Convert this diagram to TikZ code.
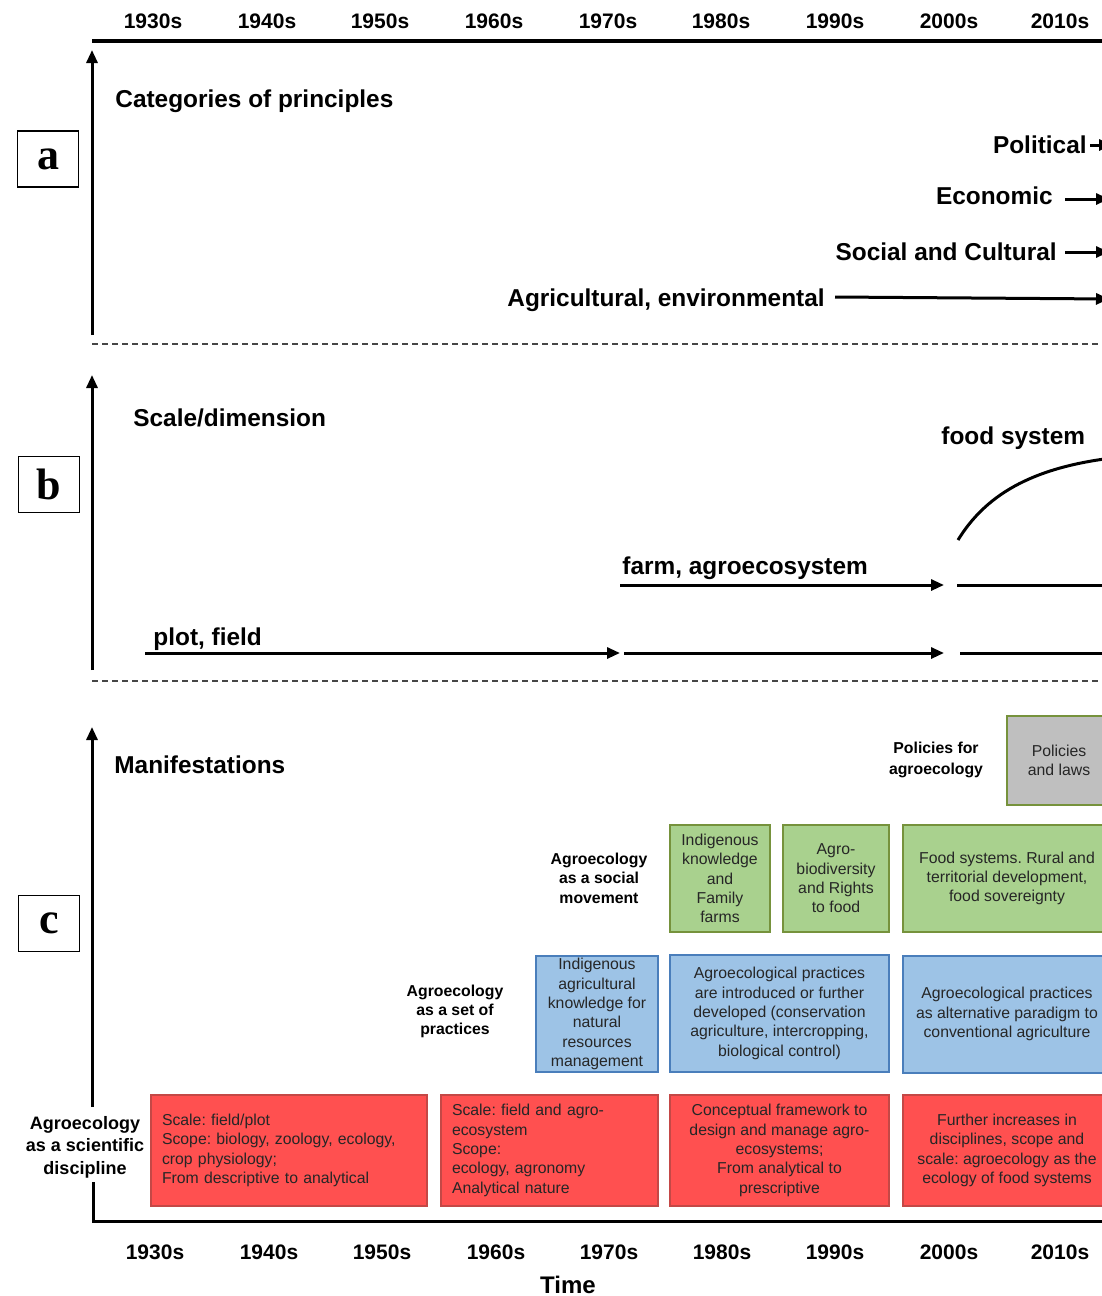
\documentclass[tikz,border=0pt]{standalone}
\usepackage{fontspec}
\setmainfont{Liberation Sans}
\newfontfamily\panelserif{Liberation Serif}
\usetikzlibrary{arrows.meta}
\frenchspacing

\definecolor{boxred}{RGB}{255,80,80}
\definecolor{boxredline}{RGB}{196,72,70}
\definecolor{boxgreen}{RGB}{169,209,142}
\definecolor{boxgreenline}{RGB}{118,146,60}
\definecolor{boxblue}{RGB}{157,195,230}
\definecolor{boxblueline}{RGB}{74,126,187}
\definecolor{boxgray}{RGB}{191,191,191}
\definecolor{boxtext}{RGB}{38,38,38}
\definecolor{dashgray}{RGB}{70,70,70}

\tikzset{
  decade/.style={font=\fontsize{10.5}{12}\selectfont\bfseries, anchor=base, inner sep=0pt},
  timelabel/.style={font=\fontsize{12}{14}\selectfont\bfseries, anchor=base, inner sep=0pt},
  heading/.style={font=\fontsize{12.2}{14}\selectfont\bfseries, inner sep=0pt},
  sidelabel/.style={font=\fontsize{7.9}{9.75}\selectfont\bfseries, align=center, inner sep=0pt},
  panel/.style={draw, line width=0.75pt, minimum width=30.5pt, minimum height=28pt,
    font=\panelserif\fontsize{22}{24}\selectfont\bfseries, inner sep=0pt},
  card/.style={line width=1pt, inner sep=0pt, text=boxtext,
    font=\fontsize{7.9}{9.65}\selectfont, align=center},
  redcard/.style={card, fill=boxred, draw=boxredline},
  greencard/.style={card, fill=boxgreen, draw=boxgreenline},
  bluecard/.style={card, fill=boxblue, draw=boxblueline},
  graycard/.style={card, fill=boxgray, draw=boxgreenline},
  axisline/.style={line width=1.5pt},
  riser/.style={line width=1.5pt, -{Triangle[length=6.5pt,width=5.5pt]}},
  flow/.style={line width=1.5pt, -{Triangle[length=6.5pt,width=5.5pt]}},
  plain/.style={line width=1.5pt},
  divider/.style={draw=dashgray, line width=0.7pt, dash pattern=on 3pt off 2pt},
}

\begin{document}
\begin{tikzpicture}[x=0.5pt,y=-0.5pt]
\useasboundingbox (0,0) rectangle (1102,1296);
\begin{scope}
\clip (0,0) rectangle (1102,1296);

% ---------- time axes ----------
\foreach \lab/\xx [count=\i] in {1930s/153,1940s/267,1950s/380,1960s/494,1970s/608,1980s/721,1990s/835,2000s/949,2010s/1060}
  \node[decade] (top\i) at (\xx,28) {\lab};
\foreach \lab/\xx [count=\i] in {1930s/155,1940s/269,1950s/382,1960s/496,1970s/609,1980s/722,1990s/835,2000s/949,2010s/1060}
  \node[decade] (bot\i) at (\xx,1259) {\lab};
\node[timelabel] (time) at (568,1293) {Time};

\coordinate (topL) at (92,41);
\coordinate (topR) at (1102,41);
\draw[line width=2pt] (topL) -- (topR);

% ---------- panel a: categories of principles ----------
\node[panel] (pa) at (48,159) {a};
\coordinate (aBase) at (92,335);
\coordinate (aTip) at (92,50);
\draw[riser] (aBase) -- (aTip);
\node[heading, anchor=base west] (cat) at (115,107) {Categories of principles};

\node[heading, anchor=base east] (pol) at (1087,153) {Political};
\node[heading, anchor=base east] (eco) at (1053,204) {Economic};
\node[heading, anchor=base east] (soc) at (1057,260) {Social and Cultural};
\node[heading, anchor=base west] (agr) at (507,306) {Agricultural, environmental};

\coordinate (polS) at (1090,145);
\coordinate (polE) at (1112,145);
\coordinate (ecoS) at (1065,199);
\coordinate (ecoE) at (1109,199);
\coordinate (socS) at (1065,252);
\coordinate (socE) at (1109,252);
\coordinate (agrS) at (835,297);
\coordinate (agrE) at (1109,299);
\draw[flow] (polS) -- (polE);
\draw[flow] (ecoS) -- (ecoE);
\draw[flow] (socS) -- (socE);
\draw[flow] (agrS) -- (agrE);

\coordinate (d1L) at (92,344);
\coordinate (d1R) at (1102,344);
\draw[divider] (d1L) -- (d1R);

% ---------- panel b: scale / dimension ----------
\node[panel] (pb) at (49,484.5) {b};
\coordinate (bBase) at (92,670);
\coordinate (bTip) at (92,375);
\draw[riser] (bBase) -- (bTip);
\node[heading, anchor=base west] (scl) at (133,426) {Scale/dimension};

\node[heading, anchor=base west] (fsys) at (941,444) {food system};
\node[heading, anchor=base west] (farm) at (622,574) {farm, agroecosystem};
\node[heading, anchor=base west] (plot) at (153,645) {plot, field};

\coordinate (fsS) at (958,540);
\coordinate (fsE) at (1112,458);
\draw[plain] (fsS) .. controls (985,496) and (1030,468) .. (fsE);

\coordinate (farmA) at (620,585);
\coordinate (farmB) at (944,585);
\coordinate (farmC) at (957,585);
\coordinate (farmD) at (1110,585);
\draw[flow] (farmA) -- (farmB);
\draw[plain] (farmC) -- (farmD);

\coordinate (plotA) at (145,653);
\coordinate (plotB) at (620,653);
\coordinate (plotC) at (624,653);
\coordinate (plotD) at (944,653);
\coordinate (plotE) at (960,653);
\coordinate (plotF) at (1110,653);
\draw[flow] (plotA) -- (plotB);
\draw[flow] (plotC) -- (plotD);
\draw[plain] (plotE) -- (plotF);

\coordinate (d2L) at (92,681);
\coordinate (d2R) at (1102,681);
\draw[divider] (d2L) -- (d2R);

% ---------- panel c: manifestations ----------
\node[panel] (pc) at (49,923.5) {c};
\coordinate (cBase) at (92,1107);
\coordinate (cTip) at (92,727);
\draw[riser] (cBase) -- (cTip);
\coordinate (cLow) at (93,1182);
\coordinate (corner) at (93,1221);
\coordinate (botR) at (1102,1221);
\draw[axisline] (cLow) -- (corner) -- (botR);

\node[heading, anchor=base west] (man) at (114,773) {Manifestations};

% policies
\node[sidelabel, font=\fontsize{7.9}{10.5}\selectfont\bfseries] (polLab) at (936,760) {Policies for\\agroecology};
\node[graycard, minimum width=52pt, minimum height=44.5pt] (gray1) at (1059,760.5) {Policies\\and laws};

% social movement
\node[sidelabel] (socLab) at (599,878) {Agroecology\\as a social\\movement};
\node[greencard, minimum width=50pt, minimum height=53.5pt] (g1) at (720,878.5)
  {Indigenous\\knowledge\\and\\Family\\farms};
\node[greencard, minimum width=53pt, minimum height=53.5pt] (g2) at (836,878.5)
  {Agro-\\biodiversity\\and Rights\\to food};
\node[greencard, minimum width=104pt, minimum height=53.5pt] (g3) at (1007,878.5)
  {Food systems. Rural and\\territorial development,\\food sovereignty};

% set of practices
\node[sidelabel, font=\fontsize{7.9}{9.5}\selectfont\bfseries] (pracLab) at (455,1011) {Agroecology\\as a set of\\practices};
\node[bluecard, minimum width=61pt, minimum height=58pt] (b1) at (597,1014)
  {Indigenous\\agricultural\\knowledge for\\natural\\resources\\management};
\node[bluecard, minimum width=109.5pt, minimum height=58.5pt] (b2) at (779.5,1013.5)
  {Agroecological practices\\are introduced or further\\developed (conservation\\agriculture, intercropping,\\biological control)};
\node[bluecard, minimum width=104pt, minimum height=58.5pt] (b3) at (1007,1014)
  {Agroecological practices\\as alternative paradigm to\\conventional agriculture};

% scientific discipline
\node[sidelabel, font=\fontsize{9}{11.25}\selectfont\bfseries] (sciLab) at (85,1147) {Agroecology\\as a scientific\\discipline};
\node[redcard, align=left, text width=127pt, inner xsep=5.5pt, minimum height=55.5pt] (r1) at (289,1150.5)
  {Scale: field/plot\\Scope: biology, zoology, ecology,\\crop physiology;\\From descriptive to analytical};
\node[redcard, align=left, text width=97.5pt, inner xsep=5.5pt, minimum height=55.5pt] (r2) at (549.5,1150.5)
  {Scale: field and agro-\\ecosystem\\Scope:\\ecology, agronomy\\Analytical nature};
\node[redcard, minimum width=109.5pt, minimum height=55.5pt] (r3) at (779.5,1150.5)
  {Conceptual framework to\\design and manage agro-\\ecosystems;\\From analytical to\\prescriptive};
\node[redcard, minimum width=104pt, minimum height=55.5pt] (r4) at (1007,1150.5)
  {Further increases in\\disciplines, scope and\\scale: agroecology as the\\ecology of food systems};

\end{scope}
\end{tikzpicture}
\end{document}
